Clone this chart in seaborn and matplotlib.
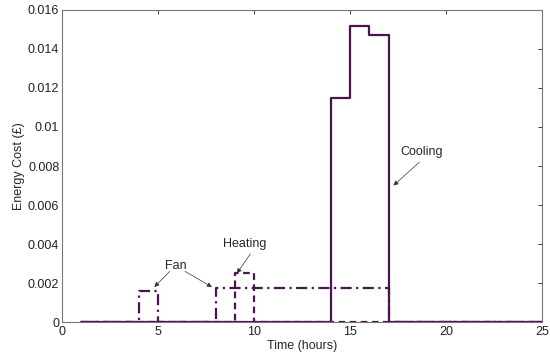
import numpy as np
import pandas as pd
import matplotlib
matplotlib.use('Agg')
import matplotlib.pyplot as plt
import seaborn as sns

# hourly energy cost, hours 1..24 (value holds over [h, h+1))
hours = list(range(1, 26))
cooling = [0, 0, 0, 0, 0, 0, 0, 0, 0, 0, 0, 0, 0, 0.0115, 0.0152, 0.0147,
           0, 0, 0, 0, 0, 0, 0, 0, 0]
fan = [0, 0, 0, 0.0016, 0, 0, 0, 0.00175, 0.00175, 0.00175, 0.00175, 0.00175,
       0.00175, 0.00175, 0.00175, 0.00175, 0, 0, 0, 0, 0, 0, 0, 0, 0]
heating = [0, 0, 0, 0, 0, 0, 0, 0, 0.0025, 0, 0, 0, 0, 0, 0, 0,
           0, 0, 0, 0, 0, 0, 0, 0, 0]

df = pd.DataFrame({'hour': hours, 'Cooling': cooling, 'Fan': fan, 'Heating': heating})

sns.set_style('white')
plt.rcParams['font.family'] = ['Liberation Sans', 'DejaVu Sans']

col = '#4a1450'
fig, ax = plt.subplots(figsize=(5.5, 3.54), dpi=100)
fig.subplots_adjust(left=0.113, right=0.986, top=0.972, bottom=0.09)

sns.lineplot(data=df, x='hour', y='Fan', ax=ax, color=col, lw=1.6,
             drawstyle='steps-post', linestyle=(0, (5, 2, 1, 2)))
sns.lineplot(data=df, x='hour', y='Heating', ax=ax, color=col, lw=1.6,
             drawstyle='steps-post', linestyle=(0, (3, 2)))
sns.lineplot(data=df, x='hour', y='Cooling', ax=ax, color=col, lw=1.6,
             drawstyle='steps-post')

ax.set_xlim(0, 25)
ax.set_ylim(0, 0.016)
ax.set_xticks([0, 5, 10, 15, 20, 25])
ax.set_yticks(np.arange(0, 0.0161, 0.002))
ax.set_yticklabels(['0', '0.002', '0.004', '0.006', '0.008', '0.01',
                    '0.012', '0.014', '0.016'])
ax.tick_params(direction='in', top=True, right=True, length=3, labelsize=9,
               colors='#222222', width=0.6)
ax.tick_params(axis='x', pad=3)
ax.tick_params(axis='y', pad=2)
for s in ax.spines.values():
    s.set_color('#777777')
    s.set_linewidth(0.8)
ax.set_xlabel('Time (hours)', fontsize=9, labelpad=1)
ax.set_ylabel('Energy Cost (£)', fontsize=9, labelpad=2)

arrow = dict(arrowstyle='-|>', color='#333333', lw=0.5, mutation_scale=7,
             shrinkA=0, shrinkB=0)
ax.annotate('Cooling', xy=(17.2, 0.0070), xytext=(18.7, 0.0087),
            ha='center', va='center', fontsize=9)
ax.annotate('', xy=(17.25, 0.0070), xytext=(18.6, 0.0082), arrowprops=arrow)
ax.annotate('Heating', xy=(9.1, 0.0026), xytext=(9.5, 0.0040),
            ha='center', va='center', fontsize=9)
ax.annotate('', xy=(9.1, 0.0025), xytext=(9.8, 0.0035), arrowprops=arrow)
ax.annotate('Fan', xy=(4.8, 0.0017), xytext=(5.9, 0.0029),
            ha='center', va='center', fontsize=9)
ax.annotate('', xy=(4.8, 0.0018), xytext=(5.6, 0.0026), arrowprops=arrow)
ax.annotate('', xy=(7.8, 0.0018), xytext=(6.4, 0.0026), arrowprops=arrow)

fig.savefig('out.png', dpi=100)
